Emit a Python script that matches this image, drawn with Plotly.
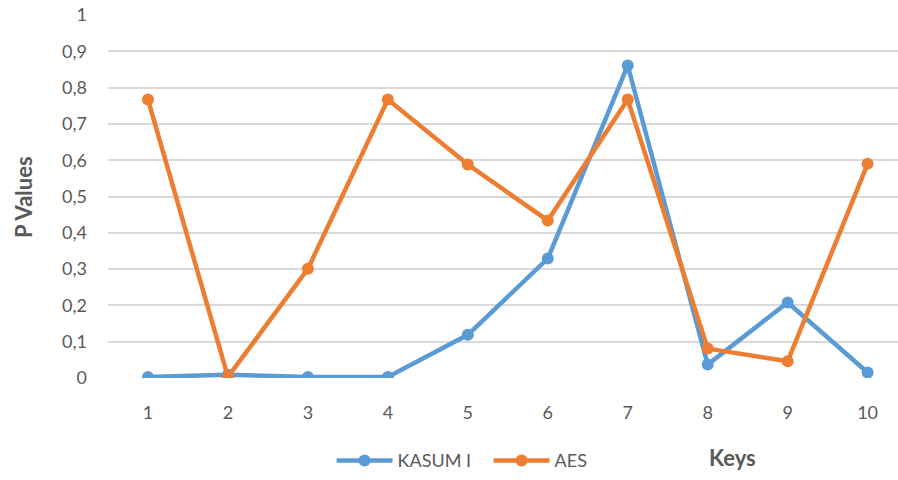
import plotly.graph_objects as go

keys = [1, 2, 3, 4, 5, 6, 7, 8, 9, 10]
kasumi = [0.003, 0.009, 0.003, 0.003, 0.119, 0.329, 0.861, 0.037, 0.208, 0.015]
aes = [0.767, 0.003, 0.301, 0.767, 0.588, 0.434, 0.767, 0.081, 0.046, 0.59]
y_ticks = [0, 0.1, 0.2, 0.3, 0.4, 0.5, 0.6, 0.7, 0.8, 0.9, 1]
y_tick_text = ["0", "0,1", "0,2", "0,3", "0,4", "0,5", "0,6", "0,7", "0,8", "0,9", "1"]

BLUE = "#5B9BD5"
ORANGE = "#ED7D31"
TEXT = "#595959"
GRID = "#D9D9D9"
FONT = "Lato, Open Sans, sans-serif"

fig = go.Figure()
fig.add_trace(go.Scatter(
    x=keys, y=kasumi, name="KASUM I", mode="lines+markers",
    line=dict(color=BLUE, width=4.5), marker=dict(color=BLUE, size=12),
))
fig.add_trace(go.Scatter(
    x=keys, y=aes, name="AES", mode="lines+markers",
    line=dict(color=ORANGE, width=4.5), marker=dict(color=ORANGE, size=12),
))

fig.update_layout(
    width=898, height=480,
    margin=dict(l=108, r=0, t=15, b=102),
    paper_bgcolor="white", plot_bgcolor="white",
    font=dict(family=FONT, color=TEXT, size=18),
    showlegend=True,
    legend=dict(
        orientation="h", x=0.283, y=-0.228, xanchor="left", yanchor="middle",
        font=dict(family=FONT, color=TEXT, size=18),
        itemwidth=56, tracegroupgap=0,
        entrywidth=86, entrywidthmode="pixels",
    ),
    xaxis=dict(
        range=[0.5, 10.38], tickmode="array", tickvals=keys,
        ticktext=[str(k) for k in keys], showgrid=False, zeroline=False,
        showline=False, ticks="", ticklabelstandoff=22,
        tickfont=dict(family=FONT, color=TEXT, size=18),
    ),
    yaxis=dict(
        range=[0, 1], tickmode="array", tickvals=y_ticks, ticktext=y_tick_text,
        showgrid=True, gridcolor=GRID, gridwidth=1.5, zeroline=False,
        showline=False, ticks="", ticklabelstandoff=20,
        tickfont=dict(family=FONT, color=TEXT, size=18),
    ),
    annotations=[
        dict(text="<b>P Values</b>", textangle=-90, x=-0.107, y=0.5,
             xref="paper", yref="paper", xanchor="center", yanchor="middle",
             showarrow=False, font=dict(family=FONT, color=TEXT, size=22)),
        dict(text="<b>Keys</b>", x=0.791, y=-0.22, xref="paper", yref="paper",
             xanchor="center", yanchor="middle",
             showarrow=False, font=dict(family=FONT, color=TEXT, size=22)),
    ],
)

fig.write_html("out.html")
